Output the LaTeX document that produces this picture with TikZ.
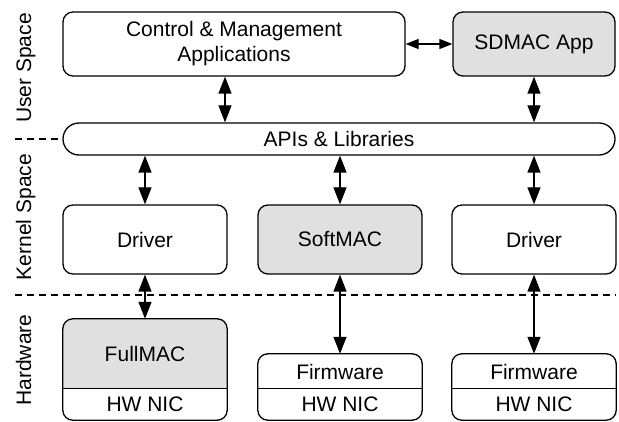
\documentclass[tikz,border=0pt]{standalone}
\usepackage{fontspec}
\setmainfont{Liberation Sans}
\usetikzlibrary{arrows.meta}
\definecolor{macgray}{gray}{0.88}

\begin{document}
\begin{tikzpicture}[x=1pt, y=-1pt, line join=round,
    box/.style={draw, line width=1.3pt, rounded corners=10pt, minimum width=164pt,
      minimum height=69pt, inner sep=0pt, align=center, font=\fontsize{21}{25}\selectfont},
    part/.style={minimum width=164pt, inner sep=0pt, font=\fontsize{21}{25}\selectfont},
    link/.style={{Triangle[length=17pt,width=13pt]}-{Triangle[length=17pt,width=13pt]}, line width=1.3pt},
    side/.style={rotate=90, anchor=base, inner sep=0pt, font=\fontsize{21}{25}\selectfont},
    layer/.style={dash pattern=on 7pt off 5pt, line width=1.2pt}]
  \useasboundingbox (0,0) rectangle (619,422);

  % user space
  \node[box, minimum width=342pt, minimum height=64pt] (ctrl) at (234,44)
    {Control \& Management\\Applications};
  \node[box, fill=macgray, minimum width=162pt, minimum height=64pt] (sdmac) at (534,44) {SDMAC App};
  % apis
  \node[box, rounded corners=16pt, minimum width=552pt, minimum height=32pt] (apis) at (339,139)
    {APIs \& Libraries};
  % kernel space
  \node[box] (drv1) at (145,239.5) {Driver};
  \node[box, fill=macgray] (soft) at (340,239.5) {SoftMAC};
  \node[box] (drv2) at (534,239.5) {Driver};
  % hardware
  \node[part, minimum height=70pt] (full) at (145,354) {FullMAC};
  \node[part, minimum height=31pt] (nic1) at (145,404.5) {HW NIC};
  \node[part, minimum height=35pt] (fw2) at (340,371.5) {Firmware};
  \node[part, minimum height=31pt] (nic2) at (340,404.5) {HW NIC};
  \node[part, minimum height=35pt] (fw3) at (534,371.5) {Firmware};
  \node[part, minimum height=31pt] (nic3) at (534,404.5) {HW NIC};

  % side labels
  \node[side] (user) at (31,68) {User Space};
  \node[side] (kernel) at (31,217) {Kernel Space};
  \node[side] (hw) at (31,360) {Hardware};

  % FullMAC fill
  \begin{scope}
    \clip[rounded corners=10pt] (full.north west) rectangle (nic1.south east);
    \fill[macgray] (full.north west) rectangle (full.south east);
  \end{scope}
  \node[part, minimum height=70pt] at (full) {FullMAC};
  % card outlines
  \draw[line width=1.3pt, rounded corners=10pt] (full.north west) rectangle (nic1.south east);
  \draw[line width=1.3pt, rounded corners=10pt] (fw2.north west) rectangle (nic2.south east);
  \draw[line width=1.3pt, rounded corners=10pt] (fw3.north west) rectangle (nic3.south east);
  \draw[line width=1.3pt] (nic1.north west) -- (nic1.north east);
  \draw[line width=1.3pt] (nic2.north west) -- (nic2.north east);
  \draw[line width=1.3pt] (nic3.north west) -- (nic3.north east);

  % layer borders
  \coordinate (b1) at (15,139);
  \coordinate (b2) at (15,295);
  \draw[layer] (b1) -- (apis.west);
  \draw[layer] (b2) -- (b2 -| apis.east);

  % arrows
  \draw[link, {Triangle[length=13pt,width=10pt]}-{Triangle[length=13pt,width=10pt]}] (ctrl.east) -- (sdmac.west);
  \draw[link] ([xshift=-9pt]ctrl.south) -- ([xshift=-9pt]ctrl.south |- apis.north);
  \draw[link] (sdmac.south) -- (sdmac.south |- apis.north);
  \draw[link] (drv1.north |- apis.south) -- (drv1.north);
  \draw[link] (soft.north |- apis.south) -- (soft.north);
  \draw[link] (drv2.north |- apis.south) -- (drv2.north);
  \draw[link] (drv1.south) -- (full.north);
  \draw[link] (soft.south) -- (fw2.north);
  \draw[link] (drv2.south) -- (fw3.north);
\end{tikzpicture}
\end{document}
